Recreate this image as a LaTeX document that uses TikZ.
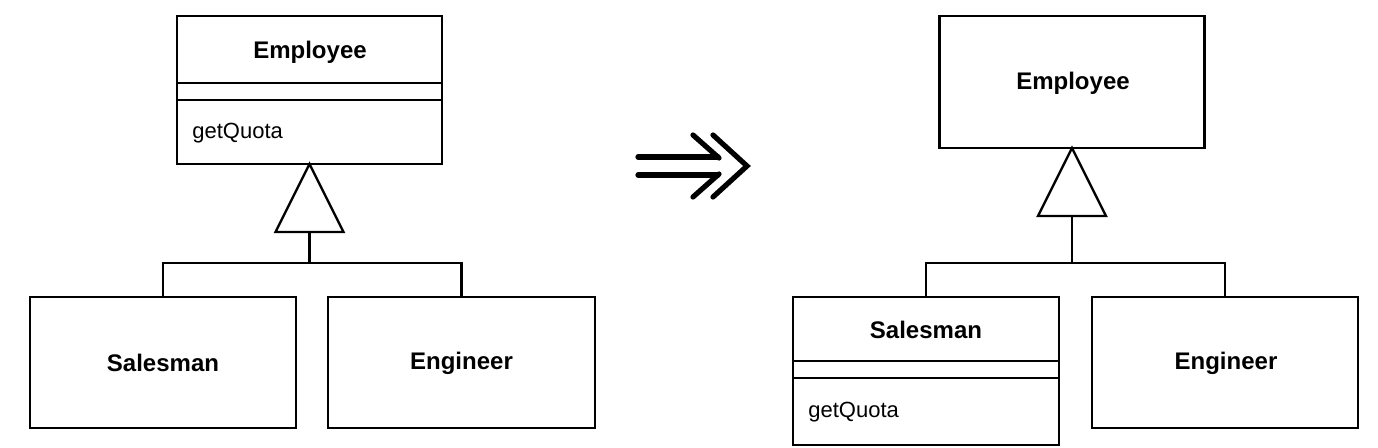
\documentclass[tikz,border=0pt]{standalone}
\usepackage{fontspec}
\setmainfont{Liberation Sans}
\usetikzlibrary{calc}
\begin{document}
\begin{tikzpicture}[x=0.5pt,y=-0.5pt,
  cls/.style={draw=black,line width=1.2pt,rectangle,inner sep=0pt,outer sep=0pt,minimum width=133pt},
  clsname/.style={inner sep=0pt,font=\fontsize{12}{14}\selectfont\bfseries},
  oper/.style={inner sep=0pt,anchor=west,font=\fontsize{11}{13}\selectfont},
  link/.style={draw=black,line width=1.2pt},
  refarrow/.style={draw=black,line width=2.6pt,line cap=round,line join=miter}]
\useasboundingbox (0,0) rectangle (1378,448);
\fill[white] (0,0) rectangle (1378,448);

% ---------------- left diagram ----------------
\node[cls,minimum width=132.5pt,minimum height=74pt] (emp1) at (309.5,90) {};
\node[clsname] (emp1name) at (310,52) {Employee};
\draw[link] ($(emp1.north west)+(0,67)$) -- ($(emp1.north east)+(0,67)$);
\draw[link] ($(emp1.north west)+(0,84)$) -- ($(emp1.north east)+(0,84)$);
\node[oper] (emp1op) at (192,133) {getQuota};

\node[cls,minimum width=133pt,minimum height=65.5pt] (sal1) at (163,362.5) {};
\node[clsname] (sal1name) at (163,363) {Salesman};
\node[cls,minimum width=133.5pt,minimum height=65.5pt] (eng1) at (461.5,362.5) {};
\node[clsname] (eng1name) at (461.5,363) {Engineer};

\draw[link] (emp1.south) -- ++(-34,68) -- ++(68,0) -- cycle;
\coordinate (tri1) at ($(emp1.south)+(0,68)$);
\coordinate (bar1) at ($(emp1.south)+(0,99)$);
\draw[link] (tri1) -- (bar1);
\draw[link] (sal1.north) |- (bar1) -| (eng1.north);

% ---------------- refactoring arrow ----------------
\draw[refarrow] (638,157) -- (718,157);
\draw[refarrow] (638,175) -- (718,175);
\draw[refarrow] (693,135) -- (719,158);
\draw[refarrow] (719,174) -- (693,197);
\draw[refarrow] (713,135) -- (747,166) -- (713,197);

% ---------------- right diagram ----------------
\node[cls,minimum width=132.5pt,minimum height=66pt] (emp2) at (1072,82) {};
\node[clsname] (emp2name) at (1073,83) {Employee};

\node[cls,minimum width=133pt,minimum height=74pt] (sal2) at (926,371) {};
\node[clsname] (sal2name) at (926,330) {Salesman};
\draw[link] ($(sal2.north west)+(0,64)$) -- ($(sal2.north east)+(0,64)$);
\draw[link] ($(sal2.north west)+(0,81)$) -- ($(sal2.north east)+(0,81)$);
\node[oper] (sal2op) at (808,412) {getQuota};

\node[cls,minimum width=133pt,minimum height=65.5pt] (eng2) at (1225,362.5) {};
\node[clsname] (eng2name) at (1226,363) {Engineer};

\draw[link] (emp2.south) -- ++(-34,68) -- ++(68,0) -- cycle;
\coordinate (tri2) at ($(emp2.south)+(0,68)$);
\coordinate (bar2) at ($(emp2.south)+(0,115)$);
\draw[link] (tri2) -- (bar2);
\draw[link] (sal2.north) |- (bar2) -| (eng2.north);
\end{tikzpicture}
\end{document}
